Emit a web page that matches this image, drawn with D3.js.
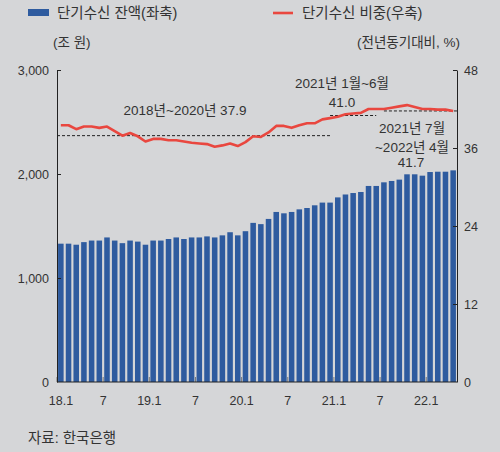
<!DOCTYPE html>
<html>
<head>
<meta charset="utf-8">
<script src="https://cdn.jsdelivr.net/npm/d3@7"></script>
<style>
  body { margin: 0; background: #d5d6d8; }
  svg { display: block; }
  text { font-family: "Liberation Sans", "Noto Sans CJK KR", sans-serif; fill: #333; }
</style>
</head>
<body>
<svg id="chart" width="500" height="452"></svg>
<script>
const months = [
  "2018.1","2018.2","2018.3","2018.4","2018.5","2018.6","2018.7","2018.8","2018.9","2018.10","2018.11","2018.12",
  "2019.1","2019.2","2019.3","2019.4","2019.5","2019.6","2019.7","2019.8","2019.9","2019.10","2019.11","2019.12",
  "2020.1","2020.2","2020.3","2020.4","2020.5","2020.6","2020.7","2020.8","2020.9","2020.10","2020.11","2020.12",
  "2021.1","2021.2","2021.3","2021.4","2021.5","2021.6","2021.7","2021.8","2021.9","2021.10","2021.11","2021.12",
  "2022.1","2022.2","2022.3","2022.4"
];
// 단기수신 잔액 (조 원)
const balance = [
  1330, 1330, 1320, 1345, 1360, 1360, 1390, 1360, 1335, 1360, 1350, 1320,
  1360, 1360, 1375, 1390, 1375, 1390, 1390, 1400, 1390, 1410, 1440, 1410,
  1450, 1530, 1518, 1568, 1635, 1622, 1635, 1660, 1673, 1699, 1725, 1725,
  1775, 1803, 1817, 1827, 1885, 1885, 1920, 1933, 1946, 1997, 1997, 1984,
  2019, 2022, 2022, 2035
];
// 단기수신 비중 (%)
const share = [
  39.5, 39.5, 38.9, 39.3, 39.3, 39.1, 39.3, 38.6, 37.9, 38.3, 37.8, 37.0,
  37.4, 37.4, 37.2, 37.2, 37.0, 36.8, 36.7, 36.6, 36.2, 36.4, 36.7, 36.3,
  36.9, 37.8, 37.7, 38.4, 39.4, 39.4, 39.1, 39.5, 39.8, 39.8, 40.4, 40.6,
  40.8, 41.2, 41.3, 41.4, 42.0, 42.0, 42.0, 42.2, 42.4, 42.6, 42.3, 42.0,
  42.0, 41.9, 41.9, 41.7
];
const xTickMonths = ["2018.1","2018.7","2019.1","2019.7","2020.1","2020.7","2021.1","2021.7","2022.1"];
const xTickLabels = ["18.1","7","19.1","7","20.1","7","21.1","7","22.1"];
const leftTicks = [0, 1000, 2000, 3000];
const rightTicks = [0, 12, 24, 36, 48];
// period averages
const avgValues = [37.9, 41.0, 41.7];
const avgFrom = ["2018.1", "2020.12", "2021.7"];
const avgTo = ["2020.12", "2021.6", "2022.4"];

const svg = d3.select("#chart");
const mLeft = 57, mRight = 457, mTop = 70, mBottom = 382;

const x = d3.scaleBand().domain(months).range([mLeft, mRight])
  .paddingInner(0.28).paddingOuter(0.14);
const step = x.step();
const cx = (m) => x(m) + x.bandwidth() / 2;
const yL = d3.scaleLinear().domain([0, 3000]).range([mBottom, mTop]);
const yR = d3.scaleLinear().domain([0, 48]).range([mBottom, mTop]);

// bars
svg.append("g")
  .selectAll("rect")
  .data(balance)
  .join("rect")
  .attr("x", (d, i) => x(months[i]))
  .attr("y", (d) => yL(d))
  .attr("width", x.bandwidth())
  .attr("height", (d) => yL(0) - yL(d))
  .attr("fill", "#2e5b9f");

// x ticks (inside, gray)
svg.append("g")
  .selectAll("line")
  .data(xTickMonths)
  .join("line")
  .attr("x1", (d) => x(d) - step * 0.14)
  .attr("x2", (d) => x(d) - step * 0.14)
  .attr("y1", mBottom)
  .attr("y2", mBottom - 5)
  .attr("stroke", "#777")
  .attr("stroke-width", 1);

svg.append("g")
  .selectAll("text")
  .data(xTickLabels)
  .join("text")
  .attr("x", (d, i) => x(xTickMonths[i]) - step * 0.14 + (i === 0 ? 4 : 0))
  .attr("y", 405)
  .attr("text-anchor", "middle")
  .attr("font-size", 12.5)
  .text((d) => d);

// left axis
const axL = svg.append("g")
  .attr("transform", `translate(${mLeft},0)`)
  .call(d3.axisLeft(yL).tickValues(leftTicks).tickFormat(d3.format(","))
    .tickSize(-4).tickSizeOuter(0).tickPadding(8));
// right axis
const axR = svg.append("g")
  .attr("transform", `translate(${mRight},0)`)
  .call(d3.axisRight(yR).tickValues(rightTicks)
    .tickSize(-4).tickSizeOuter(0).tickPadding(7));
[axL, axR].forEach((g) => {
  g.selectAll("path, line").attr("stroke", "#222");
  g.selectAll("text").attr("font-size", 12.5).attr("fill", "#333")
    .attr("font-family", "'Liberation Sans', sans-serif");
});
axL.selectAll(".tick").filter((d) => d === 0).select("line").remove();
axR.selectAll(".tick").filter((d) => d === 0).select("line").remove();

// bottom baseline
svg.append("line")
  .attr("x1", mLeft).attr("x2", mRight)
  .attr("y1", mBottom).attr("y2", mBottom)
  .attr("stroke", "#222").attr("stroke-width", 1.2);

// average dashed lines
svg.append("g")
  .selectAll("line")
  .data(avgValues)
  .join("line")
  .attr("x1", (d, i) => (i === 0 ? mLeft : cx(avgFrom[i])))
  .attr("x2", (d, i) => (i === avgValues.length - 1 ? mRight : cx(avgTo[i])))
  .attr("y1", (d) => yR(d))
  .attr("y2", (d) => yR(d))
  .attr("stroke", "#222")
  .attr("stroke-width", 1)
  .attr("stroke-dasharray", "3,2");

// share line
const line = d3.line()
  .x((d, i) => cx(months[i]))
  .y((d) => yR(d));
svg.append("path")
  .datum(share)
  .attr("d", line)
  .attr("fill", "none")
  .attr("stroke", "#e9473f")
  .attr("stroke-width", 2.6)
  .attr("stroke-linejoin", "round");

// annotations
const notes = [
  { t: "2018년~2020년 37.9", x: 185, y: 115 },
  { t: "2021년 1월~6월", x: 342, y: 88 },
  { t: "41.0", x: 342, y: 107 },
  { t: "2021년 7월", x: 412, y: 133 },
  { t: "~2022년 4월", x: 412, y: 152 },
  { t: "41.7", x: 411, y: 167 }
];
svg.append("g")
  .selectAll("text")
  .data(notes)
  .join("text")
  .attr("x", (d) => d.x)
  .attr("y", (d) => d.y)
  .attr("text-anchor", "middle")
  .attr("font-size", 13.5)
  .text((d) => d.t);

// legend
svg.append("rect").attr("x", 28).attr("y", 9).attr("width", 21).attr("height", 7).attr("fill", "#2e5b9f");
svg.append("text").attr("x", 57).attr("y", 18).attr("font-size", 14.5).text("단기수신 잔액(좌축)");
svg.append("line").attr("x1", 273).attr("x2", 293).attr("y1", 13).attr("y2", 13)
  .attr("stroke", "#e9473f").attr("stroke-width", 2.6);
svg.append("text").attr("x", 302).attr("y", 18).attr("font-size", 14.5).text("단기수신 비중(우축)");

// units
svg.append("text").attr("x", 53).attr("y", 47).attr("font-size", 13.5).text("(조 원)");
svg.append("text").attr("x", 460).attr("y", 47).attr("text-anchor", "end").attr("font-size", 13.5).text("(전년동기대비, %)");

// source
svg.append("text").attr("x", 28).attr("y", 443).attr("font-size", 14.5).text("자료: 한국은행");
</script>
</body>
</html>
